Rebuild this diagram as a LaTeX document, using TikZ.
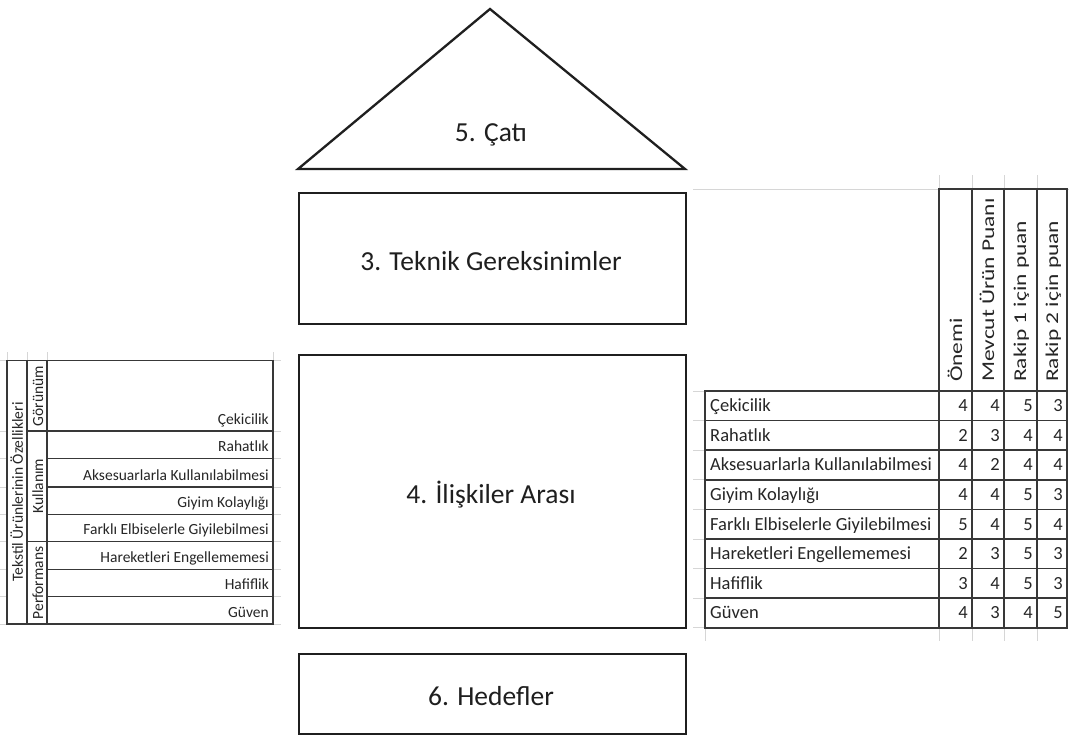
\documentclass[tikz,border=0pt]{standalone}
\usepackage{fontspec}
\setmainfont{Carlito}
\usepackage{graphicx}
\begin{document}
\begin{tikzpicture}[x=1pt,y=-1pt,
  box/.style={draw=black!88, line width=2.3pt, line join=miter},
  tb/.style={draw=black!78, line width=1.5pt},
  gridln/.style={draw=black!16, line width=0.9pt},
  big/.style={font=\fontsize{27.5}{30}\selectfont, text=black!88, inner sep=0},
  ltxt/.style={font=\fontsize{15.5}{17}\selectfont, text=black!85, inner sep=0},
  rtxt/.style={font=\fontsize{18.5}{20}\selectfont, text=black!85, inner sep=0},
  htxt/.style={font=\fontsize{18}{20}\selectfont, text=black!85, inner sep=0, rotate=90, anchor=base west}]
\useasboundingbox (0,0) rectangle (1069,736);
\fill[white] (0,0) rectangle (1069,736);

% ---------------- house ----------------
\coordinate (apex) at (490,9);
\coordinate (bl) at (298,169);
\coordinate (br) at (685,169);
\draw[box] (bl) -- (apex) -- (br) -- cycle;
\node[big, anchor=base] (roof) at (491,141.5) {5. Çatı};

\node[box, minimum width=387pt, minimum height=131pt, inner sep=0, anchor=north west] (teknikbox) at (298,192) {};
\node[big, anchor=base] (teknik) at (491,270.5) {3. Teknik Gereksinimler};

\node[box, minimum width=387pt, minimum height=273pt, inner sep=0, anchor=north west] (iliskibox) at (298,354) {};
\node[big, anchor=base] (iliski) at (491,503) {4. İlişkiler Arası};

\node[box, minimum width=387pt, minimum height=80pt, inner sep=0, anchor=north west] (hedefbox) at (298,653) {};
\node[big, anchor=base] (hedef) at (491,705) {6. Hedefler};

% ---------------- left table ----------------
\foreach \x in {7,27,47,273} \draw[gridln] (\x,352) -- (\x,360.5);
\foreach \y in {360.5,431,458.5,487,514.5,541.5,569.5,596.5,624} {
  \draw[gridln] (0,\y) -- (7,\y);
  \draw[gridln] (273,\y) -- (281,\y);
}
\foreach \y in {458.5,487,514.5,569.5,596.5} \draw[tb] (47,\y) -- (273,\y);
\foreach \y in {431,541.5} \draw[tb] (27,\y) -- (273,\y);
\draw[tb] (7,360.5) rectangle (273,624);
\draw[tb] (27,360.5) -- (27,624);
\draw[tb] (47,360.5) -- (47,624);
\foreach \t/\yb [count=\i] in {Çekicilik/431, Rahatlık/458.5, Aksesuarlarla Kullanılabilmesi/487,
  Giyim Kolaylığı/514.5, Farklı Elbiselerle Giyilebilmesi/541.5, Hareketleri Engellememesi/569.5,
  Hafiflik/596.5, Güven/624}
  \node[ltxt, anchor=base east] (l\i) at (269,\yb-7) {\t};
\node[ltxt, rotate=90, anchor=base] (tekstil) at (23,492) {Tekstil Ürünlerinin Özellikleri};
\node[ltxt, rotate=90, anchor=base] (gorunum) at (43,396) {Görünüm};
\node[ltxt, rotate=90, anchor=base] (kullanim) at (43,486) {Kullanım};
\node[ltxt, rotate=90, anchor=base] (perf) at (43,583) {Performans};

% ---------------- right table ----------------
\draw[gridln] (693,189) -- (1069,189);
\foreach \x in {939,972,1004,1037} \draw[gridln] (\x,175) -- (\x,189);
\foreach \x in {705,939,972,1004,1037} \draw[gridln] (\x,628) -- (\x,641);
\foreach \i in {0,...,8} \draw[gridln] (693,391+\i*29.6) -- (705,391+\i*29.6);

\draw[tb] (939,189) rectangle (1067,391);
\foreach \x in {972,1004,1037} \draw[tb] (\x,189) -- (\x,391);
\node[htxt] (h1) at (962,382) {\scalebox{1.3}[1]{Önemi}};
\node[htxt] (h2) at (994,382) {\scalebox{1.3}[1]{Mevcut Ürün Puanı}};
\node[htxt] (h3) at (1026,382) {\scalebox{1.3}[1]{Rakip 1 için puan}};
\node[htxt] (h4) at (1058,382) {\scalebox{1.3}[1]{Rakip 2 için puan}};

\draw[tb] (705,391) rectangle (1067,627.8);
\foreach \i in {1,...,7} \draw[tb] (705,391+\i*29.6) -- (1067,391+\i*29.6);
\foreach \x in {939,972,1004,1037} \draw[tb] (\x,391) -- (\x,627.8);
\foreach \t/\a/\b/\c/\d [count=\i] in {Çekicilik/4/4/5/3, Rahatlık/2/3/4/4,
  Aksesuarlarla Kullanılabilmesi/4/2/4/4, Giyim Kolaylığı/4/4/5/3,
  Farklı Elbiselerle Giyilebilmesi/5/4/5/4, Hareketleri Engellememesi/2/3/5/3,
  Hafiflik/3/4/5/3, Güven/4/3/4/5} {
  \pgfmathsetmacro\yb{391+\i*29.6-9}
  \node[rtxt, anchor=base west] (r\i) at (710,\yb) {\t};
  \node[rtxt, anchor=base east] (ra\i) at (968,\yb) {\a};
  \node[rtxt, anchor=base east] (rb\i) at (1000,\yb) {\b};
  \node[rtxt, anchor=base east] (rc\i) at (1033,\yb) {\c};
  \node[rtxt, anchor=base east] (rd\i) at (1063,\yb) {\d};
}
\end{tikzpicture}
\end{document}
